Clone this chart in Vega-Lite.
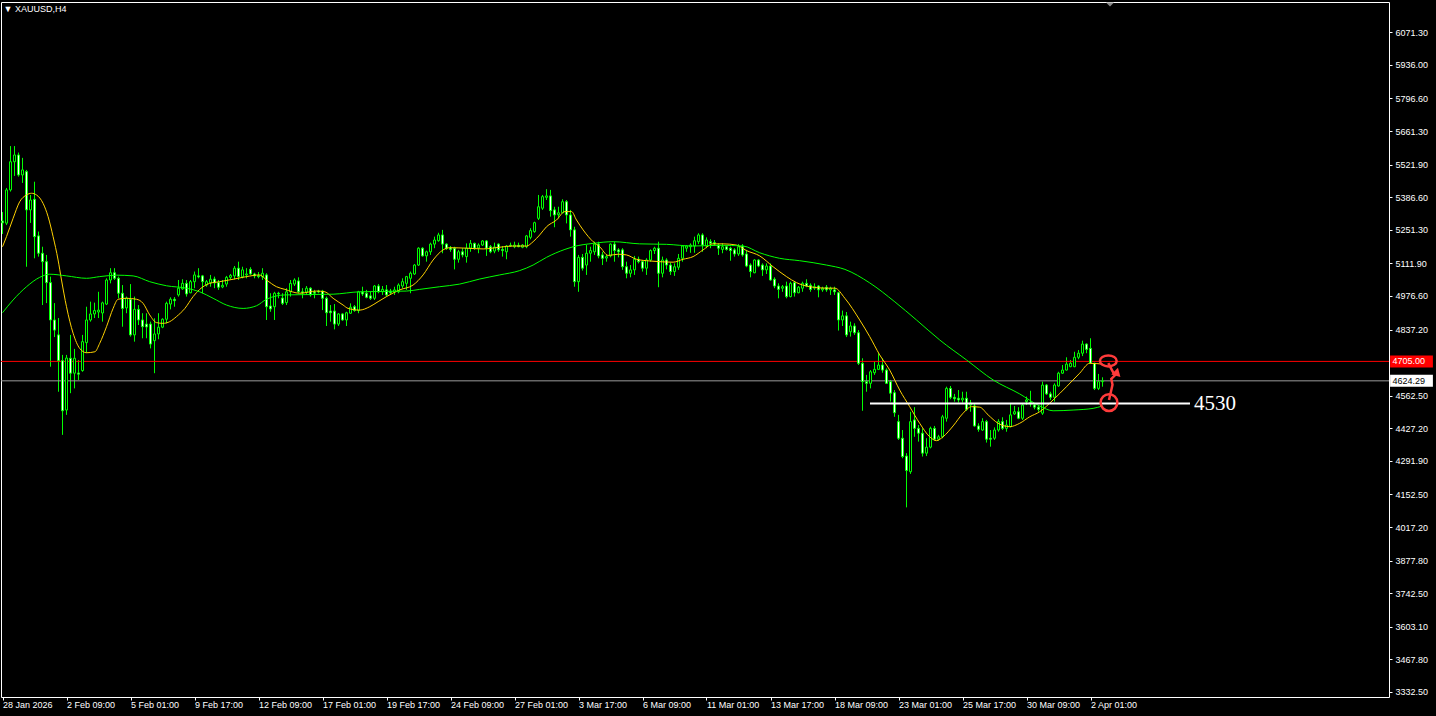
{
"$schema":"https://vega.github.io/schema/vega-lite/v6.json",
"width":1388,"height":695,
"autosize":{"type":"none"},
"padding":{"left":1,"top":2,"right":47,"bottom":19},
"background":"#000000",
"title":{"text":"▼ XAUUSD,H4","anchor":"start","dx":3,"offset":-12,"fontSize":9,"font":"Liberation Sans","fontWeight":"normal","color":"#ffffff"},
"config":{"view":{"stroke":"#ffffff","strokeWidth":1,"fill":"#000000"},
"axis":{"grid":false,"domainColor":"#ffffff","tickColor":"#ffffff","labelColor":"#ffffff","labelFont":"Liberation Sans","labelFontSize":9,"labelOverlap":false,"labelBound":false,"labelFlush":false}},
"datasets":{
"c":[
{"i":0,"o":5288,"h":5325,"l":5234,"c":5280},{"i":1,"o":5279,"h":5425,"l":5271,"c":5417},{"i":2,"o":5417,"h":5599,"l":5410,"c":5534},{"i":3,"o":5534,"h":5599,"l":5475,"c":5562},{"i":4,"o":5562,"h":5572,"l":5472,"c":5479},{"i":5,"o":5479,"h":5550,"l":5446,"c":5500},{"i":6,"o":5493,"h":5500,"l":5098,"c":5334},{"i":7,"o":5334,"h":5396,"l":5280,"c":5375},{"i":8,"o":5378,"h":5451,"l":5133,"c":5223},{"i":9,"o":5226,"h":5244,"l":5140,"c":5154},
{"i":10,"o":5154,"h":5181,"l":4939,"c":5119},{"i":11,"o":5119,"h":5147,"l":4947,"c":5032},{"i":12,"o":5032,"h":5057,"l":4683,"c":4877},{"i":13,"o":4877,"h":4947,"l":4806,"c":4835},{"i":14,"o":4815,"h":4885,"l":4579,"c":4708},{"i":15,"o":4708,"h":4732,"l":4400,"c":4500},{"i":16,"o":4503,"h":4732,"l":4483,"c":4719},{"i":17,"o":4718,"h":4815,"l":4573,"c":4656},{"i":18,"o":4656,"h":4757,"l":4593,"c":4718},{"i":19,"o":4657,"h":4711,"l":4628,"c":4652},
{"i":20,"o":4667,"h":4815,"l":4662,"c":4787},{"i":21,"o":4783,"h":4932,"l":4740,"c":4877},{"i":22,"o":4877,"h":4953,"l":4870,"c":4902},{"i":23,"o":4902,"h":4949,"l":4885,"c":4916},{"i":24,"o":4910,"h":4994,"l":4885,"c":4918},{"i":25,"o":4906,"h":4953,"l":4870,"c":4948},{"i":26,"o":4943,"h":5050,"l":4939,"c":5043},{"i":27,"o":5043,"h":5092,"l":5029,"c":5073},{"i":28,"o":5073,"h":5092,"l":5043,"c":5050},{"i":29,"o":5050,"h":5057,"l":4967,"c":4988},
{"i":30,"o":4988,"h":5022,"l":4849,"c":4925},{"i":31,"o":4927,"h":4974,"l":4905,"c":4968},{"i":32,"o":4963,"h":5026,"l":4808,"c":4815},{"i":33,"o":4815,"h":4974,"l":4787,"c":4921},{"i":34,"o":4921,"h":4939,"l":4856,"c":4877},{"i":35,"o":4877,"h":4905,"l":4801,"c":4849},{"i":36,"o":4860,"h":4905,"l":4801,"c":4848},{"i":37,"o":4860,"h":4870,"l":4759,"c":4777},{"i":38,"o":4791,"h":4884,"l":4656,"c":4819},{"i":39,"o":4819,"h":4905,"l":4797,"c":4847},
{"i":40,"o":4847,"h":4884,"l":4843,"c":4880},{"i":41,"o":4880,"h":4953,"l":4863,"c":4946},{"i":42,"o":4943,"h":4971,"l":4921,"c":4963},{"i":43,"o":4963,"h":4972,"l":4932,"c":4957},{"i":44,"o":4981,"h":5043,"l":4974,"c":5009},{"i":45,"o":5006,"h":5046,"l":5002,"c":5029},{"i":46,"o":5029,"h":5043,"l":4974,"c":4985},{"i":47,"o":4990,"h":5043,"l":4988,"c":5036},{"i":48,"o":5036,"h":5078,"l":5009,"c":5064},{"i":49,"o":5060,"h":5092,"l":5050,"c":5056},
{"i":50,"o":5060,"h":5064,"l":4988,"c":5036},{"i":51,"o":5022,"h":5043,"l":5015,"c":5036},{"i":52,"o":5031,"h":5064,"l":5015,"c":5046},{"i":53,"o":5047,"h":5057,"l":5009,"c":5031},{"i":54,"o":5032,"h":5043,"l":5002,"c":5013},{"i":55,"o":5014,"h":5043,"l":5009,"c":5021},{"i":56,"o":5026,"h":5060,"l":5015,"c":5054},{"i":57,"o":5054,"h":5068,"l":5046,"c":5062},{"i":58,"o":5060,"h":5101,"l":5046,"c":5092},{"i":59,"o":5092,"h":5119,"l":5043,"c":5057},
{"i":60,"o":5056,"h":5098,"l":5050,"c":5085},{"i":61,"o":5064,"h":5092,"l":5050,"c":5068},{"i":62,"o":5087,"h":5096,"l":5064,"c":5068},{"i":63,"o":5068,"h":5073,"l":5050,"c":5060},{"i":64,"o":5061,"h":5076,"l":5050,"c":5057},{"i":65,"o":5056,"h":5092,"l":5043,"c":5071},{"i":66,"o":5064,"h":5071,"l":4877,"c":4932},{"i":67,"o":4935,"h":4988,"l":4911,"c":4923},{"i":68,"o":4932,"h":4994,"l":4877,"c":4988},{"i":69,"o":4988,"h":4994,"l":4967,"c":4985},
{"i":70,"o":4968,"h":4988,"l":4939,"c":4946},{"i":71,"o":4949,"h":5009,"l":4939,"c":4994},{"i":72,"o":4994,"h":5043,"l":4974,"c":5029},{"i":73,"o":5026,"h":5050,"l":5018,"c":5043},{"i":74,"o":5039,"h":5054,"l":4988,"c":4994},{"i":75,"o":4994,"h":5009,"l":4967,"c":4989},{"i":76,"o":4993,"h":5018,"l":4981,"c":5009},{"i":77,"o":5009,"h":5013,"l":4974,"c":4981},{"i":78,"o":4993,"h":5002,"l":4967,"c":4988},{"i":79,"o":4997,"h":5002,"l":4988,"c":4993},
{"i":80,"o":4997,"h":5002,"l":4918,"c":4967},{"i":81,"o":4967,"h":4974,"l":4852,"c":4907},{"i":82,"o":4914,"h":4939,"l":4870,"c":4907},{"i":83,"o":4914,"h":4943,"l":4838,"c":4860},{"i":84,"o":4860,"h":4905,"l":4852,"c":4902},{"i":85,"o":4902,"h":4905,"l":4874,"c":4877},{"i":86,"o":4877,"h":4911,"l":4852,"c":4907},{"i":87,"o":4905,"h":4946,"l":4902,"c":4930},{"i":88,"o":4932,"h":4939,"l":4911,"c":4916},{"i":89,"o":4916,"h":4998,"l":4905,"c":4994},
{"i":90,"o":4993,"h":5015,"l":4977,"c":4985},{"i":91,"o":4988,"h":5002,"l":4967,"c":4971},{"i":92,"o":4977,"h":4994,"l":4960,"c":4967},{"i":93,"o":4967,"h":5022,"l":4960,"c":5018},{"i":94,"o":5018,"h":5026,"l":4988,"c":4994},{"i":95,"o":4994,"h":5018,"l":4981,"c":5004},{"i":96,"o":5002,"h":5022,"l":4974,"c":4981},{"i":97,"o":4997,"h":5006,"l":4985,"c":4990},{"i":98,"o":4993,"h":5015,"l":4981,"c":5002},{"i":99,"o":4994,"h":5029,"l":4988,"c":5022},
{"i":100,"o":5018,"h":5050,"l":5009,"c":5036},{"i":101,"o":5029,"h":5060,"l":5002,"c":5057},{"i":102,"o":5050,"h":5078,"l":4988,"c":5071},{"i":103,"o":5068,"h":5109,"l":5064,"c":5105},{"i":104,"o":5105,"h":5179,"l":5101,"c":5175},{"i":105,"o":5175,"h":5179,"l":5140,"c":5143},{"i":106,"o":5143,"h":5165,"l":5119,"c":5160},{"i":107,"o":5160,"h":5198,"l":5147,"c":5192},{"i":108,"o":5192,"h":5223,"l":5175,"c":5209},{"i":109,"o":5206,"h":5239,"l":5202,"c":5230},
{"i":110,"o":5230,"h":5251,"l":5154,"c":5192},{"i":111,"o":5192,"h":5195,"l":5168,"c":5175},{"i":112,"o":5176,"h":5184,"l":5160,"c":5170},{"i":113,"o":5175,"h":5181,"l":5087,"c":5129},{"i":114,"o":5129,"h":5168,"l":5115,"c":5160},{"i":115,"o":5160,"h":5175,"l":5137,"c":5147},{"i":116,"o":5140,"h":5195,"l":5115,"c":5175},{"i":117,"o":5175,"h":5209,"l":5160,"c":5195},{"i":118,"o":5195,"h":5198,"l":5168,"c":5175},{"i":119,"o":5176,"h":5195,"l":5154,"c":5188},
{"i":120,"o":5188,"h":5209,"l":5184,"c":5205},{"i":121,"o":5205,"h":5209,"l":5143,"c":5175},{"i":122,"o":5181,"h":5188,"l":5154,"c":5160},{"i":123,"o":5163,"h":5198,"l":5154,"c":5180},{"i":124,"o":5192,"h":5195,"l":5160,"c":5168},{"i":125,"o":5170,"h":5184,"l":5140,"c":5165},{"i":126,"o":5160,"h":5188,"l":5129,"c":5184},{"i":127,"o":5187,"h":5198,"l":5181,"c":5184},{"i":128,"o":5181,"h":5202,"l":5175,"c":5188},{"i":129,"o":5187,"h":5198,"l":5179,"c":5181},
{"i":130,"o":5179,"h":5192,"l":5175,"c":5188},{"i":131,"o":5181,"h":5230,"l":5175,"c":5226},{"i":132,"o":5220,"h":5258,"l":5212,"c":5248},{"i":133,"o":5244,"h":5285,"l":5239,"c":5281},{"i":134,"o":5299,"h":5396,"l":5292,"c":5347},{"i":135,"o":5341,"h":5396,"l":5334,"c":5389},{"i":136,"o":5386,"h":5420,"l":5375,"c":5392},{"i":137,"o":5392,"h":5417,"l":5306,"c":5331},{"i":138,"o":5334,"h":5347,"l":5262,"c":5313},{"i":139,"o":5314,"h":5347,"l":5299,"c":5322},
{"i":140,"o":5322,"h":5378,"l":5320,"c":5368},{"i":141,"o":5368,"h":5375,"l":5278,"c":5313},{"i":142,"o":5313,"h":5334,"l":5223,"c":5251},{"i":143,"o":5251,"h":5264,"l":5015,"c":5036},{"i":144,"o":5036,"h":5147,"l":4994,"c":5137},{"i":145,"o":5137,"h":5151,"l":5082,"c":5092},{"i":146,"o":5105,"h":5188,"l":5064,"c":5154},{"i":147,"o":5154,"h":5181,"l":5119,"c":5165},{"i":148,"o":5160,"h":5202,"l":5147,"c":5192},{"i":149,"o":5192,"h":5202,"l":5133,"c":5143},
{"i":150,"o":5147,"h":5160,"l":5105,"c":5133},{"i":151,"o":5134,"h":5147,"l":5119,"c":5140},{"i":152,"o":5143,"h":5195,"l":5137,"c":5192},{"i":153,"o":5192,"h":5202,"l":5119,"c":5165},{"i":154,"o":5168,"h":5175,"l":5137,"c":5160},{"i":155,"o":5168,"h":5175,"l":5085,"c":5098},{"i":156,"o":5098,"h":5119,"l":5050,"c":5071},{"i":157,"o":5071,"h":5105,"l":5054,"c":5085},{"i":158,"o":5085,"h":5143,"l":5064,"c":5129},{"i":159,"o":5129,"h":5140,"l":5112,"c":5119},
{"i":160,"o":5119,"h":5126,"l":5078,"c":5092},{"i":161,"o":5092,"h":5133,"l":5064,"c":5126},{"i":162,"o":5126,"h":5170,"l":5119,"c":5165},{"i":163,"o":5165,"h":5181,"l":5151,"c":5175},{"i":164,"o":5175,"h":5202,"l":5013,"c":5071},{"i":165,"o":5071,"h":5140,"l":5054,"c":5126},{"i":166,"o":5126,"h":5133,"l":5087,"c":5105},{"i":167,"o":5105,"h":5115,"l":5064,"c":5078},{"i":168,"o":5078,"h":5112,"l":5060,"c":5098},{"i":169,"o":5096,"h":5151,"l":5085,"c":5133},
{"i":170,"o":5133,"h":5188,"l":5119,"c":5184},{"i":171,"o":5175,"h":5188,"l":5160,"c":5184},{"i":172,"o":5181,"h":5195,"l":5156,"c":5188},{"i":173,"o":5184,"h":5223,"l":5156,"c":5206},{"i":174,"o":5202,"h":5237,"l":5192,"c":5230},{"i":175,"o":5230,"h":5237,"l":5160,"c":5188},{"i":176,"o":5184,"h":5220,"l":5175,"c":5209},{"i":177,"o":5202,"h":5212,"l":5175,"c":5195},{"i":178,"o":5198,"h":5209,"l":5184,"c":5192},{"i":179,"o":5188,"h":5195,"l":5147,"c":5175},
{"i":180,"o":5170,"h":5195,"l":5154,"c":5181},{"i":181,"o":5181,"h":5184,"l":5165,"c":5170},{"i":182,"o":5175,"h":5181,"l":5123,"c":5165},{"i":183,"o":5168,"h":5175,"l":5140,"c":5151},{"i":184,"o":5151,"h":5192,"l":5143,"c":5181},{"i":185,"o":5184,"h":5192,"l":5140,"c":5147},{"i":186,"o":5151,"h":5168,"l":5096,"c":5101},{"i":187,"o":5105,"h":5112,"l":5054,"c":5078},{"i":188,"o":5073,"h":5129,"l":5071,"c":5126},{"i":189,"o":5126,"h":5129,"l":5096,"c":5101},
{"i":190,"o":5105,"h":5112,"l":5060,"c":5085},{"i":191,"o":5085,"h":5112,"l":5068,"c":5101},{"i":192,"o":5101,"h":5112,"l":5040,"c":5043},{"i":193,"o":5046,"h":5054,"l":5009,"c":5018},{"i":194,"o":5018,"h":5029,"l":4967,"c":5004},{"i":195,"o":5009,"h":5022,"l":4994,"c":5015},{"i":196,"o":5018,"h":5036,"l":4967,"c":4974},{"i":197,"o":4974,"h":5036,"l":4971,"c":5029},{"i":198,"o":5032,"h":5036,"l":4974,"c":4990},{"i":199,"o":4990,"h":5018,"l":4988,"c":5013},
{"i":200,"o":5009,"h":5036,"l":4994,"c":5029},{"i":201,"o":5029,"h":5046,"l":5013,"c":5018},{"i":202,"o":5021,"h":5029,"l":4994,"c":5004},{"i":203,"o":5009,"h":5029,"l":5002,"c":5015},{"i":204,"o":5018,"h":5022,"l":4971,"c":5002},{"i":205,"o":5002,"h":5015,"l":4994,"c":5009},{"i":206,"o":5013,"h":5022,"l":4994,"c":5002},{"i":207,"o":5002,"h":5015,"l":4981,"c":5009},{"i":208,"o":5002,"h":5015,"l":4981,"c":4994},{"i":209,"o":4990,"h":4994,"l":4833,"c":4877},
{"i":210,"o":4877,"h":4916,"l":4852,"c":4894},{"i":211,"o":4894,"h":4910,"l":4806,"c":4815},{"i":212,"o":4828,"h":4870,"l":4808,"c":4852},{"i":213,"o":4852,"h":4863,"l":4815,"c":4824},{"i":214,"o":4824,"h":4835,"l":4690,"c":4697},{"i":215,"o":4697,"h":4718,"l":4500,"c":4621},{"i":216,"o":4621,"h":4649,"l":4579,"c":4614},{"i":217,"o":4614,"h":4669,"l":4593,"c":4662},{"i":218,"o":4658,"h":4704,"l":4649,"c":4672},{"i":219,"o":4672,"h":4739,"l":4669,"c":4690},
{"i":220,"o":4690,"h":4718,"l":4658,"c":4669},{"i":221,"o":4669,"h":4676,"l":4611,"c":4614},{"i":222,"o":4621,"h":4628,"l":4538,"c":4573},{"i":223,"o":4575,"h":4586,"l":4475,"c":4492},{"i":224,"o":4455,"h":4483,"l":4379,"c":4386},{"i":225,"o":4386,"h":4420,"l":4303,"c":4310},{"i":226,"o":4312,"h":4324,"l":4099,"c":4252},{"i":227,"o":4247,"h":4496,"l":4238,"c":4455},{"i":228,"o":4462,"h":4515,"l":4392,"c":4427},{"i":229,"o":4427,"h":4441,"l":4372,"c":4407},
{"i":230,"o":4407,"h":4427,"l":4310,"c":4324},{"i":231,"o":4324,"h":4386,"l":4312,"c":4349},{"i":232,"o":4349,"h":4434,"l":4344,"c":4427},{"i":233,"o":4427,"h":4437,"l":4376,"c":4382},{"i":234,"o":4382,"h":4400,"l":4376,"c":4392},{"i":235,"o":4392,"h":4483,"l":4386,"c":4475},{"i":236,"o":4469,"h":4600,"l":4455,"c":4593},{"i":237,"o":4593,"h":4603,"l":4548,"c":4556},{"i":238,"o":4556,"h":4570,"l":4538,"c":4550},{"i":239,"o":4552,"h":4586,"l":4534,"c":4545},
{"i":240,"o":4545,"h":4579,"l":4534,"c":4552},{"i":241,"o":4552,"h":4579,"l":4500,"c":4506},{"i":242,"o":4524,"h":4545,"l":4496,"c":4532},{"i":243,"o":4520,"h":4531,"l":4434,"c":4437},{"i":244,"o":4437,"h":4448,"l":4413,"c":4423},{"i":245,"o":4420,"h":4469,"l":4417,"c":4455},{"i":246,"o":4455,"h":4462,"l":4368,"c":4382},{"i":247,"o":4386,"h":4420,"l":4351,"c":4382},{"i":248,"o":4386,"h":4431,"l":4379,"c":4420},{"i":249,"o":4420,"h":4465,"l":4413,"c":4455},
{"i":250,"o":4455,"h":4473,"l":4420,"c":4427},{"i":251,"o":4427,"h":4462,"l":4413,"c":4441},{"i":252,"o":4434,"h":4531,"l":4431,"c":4483},{"i":253,"o":4487,"h":4520,"l":4483,"c":4496},{"i":254,"o":4496,"h":4515,"l":4465,"c":4469},{"i":255,"o":4469,"h":4531,"l":4462,"c":4524},{"i":256,"o":4538,"h":4559,"l":4524,"c":4545},{"i":257,"o":4534,"h":4583,"l":4517,"c":4528},{"i":258,"o":4524,"h":4531,"l":4506,"c":4515},{"i":259,"o":4515,"h":4524,"l":4496,"c":4506},
{"i":260,"o":4490,"h":4621,"l":4483,"c":4607},{"i":261,"o":4607,"h":4611,"l":4566,"c":4570},{"i":262,"o":4570,"h":4579,"l":4545,"c":4556},{"i":263,"o":4556,"h":4614,"l":4538,"c":4607},{"i":264,"o":4603,"h":4662,"l":4600,"c":4656},{"i":265,"o":4656,"h":4690,"l":4653,"c":4669},{"i":266,"o":4669,"h":4722,"l":4667,"c":4694},{"i":267,"o":4683,"h":4711,"l":4681,"c":4697},{"i":268,"o":4683,"h":4745,"l":4681,"c":4722},{"i":269,"o":4722,"h":4752,"l":4714,"c":4739},
{"i":270,"o":4739,"h":4791,"l":4727,"c":4777},{"i":271,"o":4777,"h":4780,"l":4739,"c":4755},{"i":272,"o":4759,"h":4801,"l":4694,"c":4697},{"i":273,"o":4697,"h":4700,"l":4586,"c":4593},{"i":274,"o":4593,"h":4653,"l":4586,"c":4621},{"i":275,"o":4621,"h":4639,"l":4600,"c":4624.29}
],
"ma":[
{"s":"f","i":0,"v":5181},{"s":"f","i":1,"v":5223},{"s":"f","i":2.65,"v":5299},{"s":"f","i":4.3,"v":5368},{"s":"f","i":6,"v":5396},{"s":"f","i":7.25,"v":5403},{"s":"f","i":8.5,"v":5396},{"s":"f","i":10.15,"v":5361},{"s":"f","i":11.4,"v":5306},{"s":"f","i":12.65,"v":5223},{"s":"f","i":13.9,"v":5126},{"s":"f","i":14.75,"v":5043},{"s":"f","i":16,"v":4932},{"s":"f","i":17.65,"v":4822},{"s":"f","i":19.3,"v":4759},{"s":"f","i":21,"v":4741},{"s":"f","i":23.1,"v":4745},{"s":"f","i":24.3,"v":4780},{"s":"f","i":26,"v":4849},{"s":"f","i":27.65,"v":4925},{"s":"f","i":28.9,"v":4963},{"s":"f","i":31,"v":4967},{"s":"f","i":33.5,"v":4963},{"s":"f","i":35.15,"v":4946},{"s":"f","i":36.8,"v":4898},{"s":"f","i":38.5,"v":4866},{"s":"f","i":40.15,"v":4863},{"s":"f","i":41.8,"v":4870},{"s":"f","i":43.5,"v":4891},{"s":"f","i":45.6,"v":4925},{"s":"f","i":47.65,"v":4974},{"s":"f","i":49.3,"v":5004},{"s":"f","i":51.8,"v":5029},{"s":"f","i":54.3,"v":5036},{"s":"f","i":57.65,"v":5046},{"s":"f","i":61,"v":5057},{"s":"f","i":64.3,"v":5064},{"s":"f","i":66,"v":5043},{"s":"f","i":68.5,"v":5015},{"s":"f","i":70.6,"v":5004},{"s":"f","i":74.3,"v":4988},{"s":"f","i":78.5,"v":4997},{"s":"f","i":80.6,"v":4994},{"s":"f","i":82.65,"v":4967},{"s":"f","i":85.15,"v":4939},{"s":"f","i":86.4,"v":4925},{"s":"f","i":89.3,"v":4918},{"s":"f","i":91.8,"v":4932},{"s":"f","i":93.9,"v":4953},{"s":"f","i":96,"v":4974},{"s":"f","i":99.3,"v":5002},{"s":"f","i":102.65,"v":5022},{"s":"f","i":105.15,"v":5064},{"s":"f","i":107.65,"v":5126},{"s":"f","i":110.15,"v":5168},{"s":"f","i":111.8,"v":5177},{"s":"f","i":116,"v":5175},{"s":"f","i":120.15,"v":5172},{"s":"f","i":124.3,"v":5179},{"s":"f","i":127.65,"v":5184},{"s":"f","i":131,"v":5184},{"s":"f","i":132.65,"v":5202},{"s":"f","i":134.3,"v":5230},{"s":"f","i":136,"v":5264},{"s":"f","i":138.5,"v":5292},{"s":"f","i":140.6,"v":5327},{"s":"f","i":142.25,"v":5327},{"s":"f","i":143.5,"v":5292},{"s":"f","i":145.15,"v":5251},{"s":"f","i":147.65,"v":5202},{"s":"f","i":149.3,"v":5181},{"s":"f","i":151.4,"v":5145},{"s":"f","i":153.9,"v":5150},{"s":"f","i":156,"v":5147},{"s":"f","i":158.5,"v":5129},{"s":"f","i":161.8,"v":5122},{"s":"f","i":164.3,"v":5119},{"s":"f","i":167.65,"v":5117},{"s":"f","i":170.15,"v":5129},{"s":"f","i":172.65,"v":5140},{"s":"f","i":175.15,"v":5168},{"s":"f","i":177.65,"v":5193},{"s":"f","i":180.15,"v":5193},{"s":"f","i":183.5,"v":5188},{"s":"f","i":186,"v":5165},{"s":"f","i":189.3,"v":5143},{"s":"f","i":192.65,"v":5098},{"s":"f","i":196,"v":5057},{"s":"f","i":198.5,"v":5032},{"s":"f","i":201.8,"v":5015},{"s":"f","i":206,"v":5009},{"s":"f","i":208.1,"v":5009},{"s":"f","i":210.6,"v":4967},{"s":"f","i":214.3,"v":4877},{"s":"f","i":216.8,"v":4808},{"s":"f","i":219.3,"v":4732},{"s":"f","i":221.8,"v":4669},{"s":"f","i":224.3,"v":4586},{"s":"f","i":226.8,"v":4517},{"s":"f","i":229.3,"v":4448},{"s":"f","i":231.8,"v":4392},{"s":"f","i":233.5,"v":4376},{"s":"f","i":235.15,"v":4392},{"s":"f","i":237.65,"v":4437},{"s":"f","i":240.15,"v":4490},{"s":"f","i":242.25,"v":4517},{"s":"f","i":244.3,"v":4515},{"s":"f","i":246.4,"v":4483},{"s":"f","i":248.9,"v":4448},{"s":"f","i":251.8,"v":4434},{"s":"f","i":254.3,"v":4448},{"s":"f","i":256.8,"v":4475},{"s":"f","i":259.3,"v":4496},{"s":"f","i":262.65,"v":4545},{"s":"f","i":266,"v":4600},{"s":"f","i":269.3,"v":4656},{"s":"f","i":271.8,"v":4697},{"s":"f","i":275,"v":4694},
{"s":"s","i":0,"v":4907},{"s":"s","i":2.65,"v":4960},{"s":"s","i":6,"v":5015},{"s":"s","i":9.3,"v":5054},{"s":"s","i":11.8,"v":5067},{"s":"s","i":16,"v":5060},{"s":"s","i":21,"v":5050},{"s":"s","i":24.3,"v":5057},{"s":"s","i":28.5,"v":5063},{"s":"s","i":32.65,"v":5060},{"s":"s","i":36.8,"v":5036},{"s":"s","i":41,"v":5019},{"s":"s","i":46,"v":5009},{"s":"s","i":49.3,"v":4994},{"s":"s","i":52.65,"v":4967},{"s":"s","i":56,"v":4939},{"s":"s","i":60.15,"v":4925},{"s":"s","i":63.5,"v":4936},{"s":"s","i":66,"v":4963},{"s":"s","i":70.6,"v":4981},{"s":"s","i":82.65,"v":4984},{"s":"s","i":89.3,"v":4994},{"s":"s","i":101,"v":4997},{"s":"s","i":104.3,"v":5004},{"s":"s","i":109.3,"v":5015},{"s":"s","i":114.3,"v":5026},{"s":"s","i":119.3,"v":5047},{"s":"s","i":124.3,"v":5064},{"s":"s","i":129.3,"v":5082},{"s":"s","i":132.65,"v":5105},{"s":"s","i":136,"v":5137},{"s":"s","i":140.6,"v":5170},{"s":"s","i":142.65,"v":5181},{"s":"s","i":147.65,"v":5195},{"s":"s","i":152.65,"v":5202},{"s":"s","i":159.3,"v":5193},{"s":"s","i":166,"v":5191},{"s":"s","i":172.65,"v":5184},{"s":"s","i":179.3,"v":5187},{"s":"s","i":185.15,"v":5184},{"s":"s","i":189.3,"v":5156},{"s":"s","i":194.3,"v":5133},{"s":"s","i":199.3,"v":5123},{"s":"s","i":206,"v":5105},{"s":"s","i":210.6,"v":5087},{"s":"s","i":216.8,"v":5031},{"s":"s","i":223.1,"v":4952},{"s":"s","i":228.5,"v":4877},{"s":"s","i":234.3,"v":4794},{"s":"s","i":241,"v":4711},{"s":"s","i":247.65,"v":4628},{"s":"s","i":254.3,"v":4570},{"s":"s","i":259.3,"v":4520},{"s":"s","i":262.65,"v":4500},{"s":"s","i":267.65,"v":4503},{"s":"s","i":272.65,"v":4510},{"s":"s","i":275,"v":4520}
]
},
"layer":[
{"data":{"name":"c"},
 "mark":{"type":"rule","color":"#00ff00","strokeWidth":1},
 "encoding":{
  "x":{"field":"i","type":"quantitative","scale":{"domain":[-0.375,346.625],"nice":false,"zero":false,"padding":0},
   "axis":{"title":null,"orient":"bottom","tickCount":100,"values":[0,16,32,48,64,80,96,112,128,144,160,176,192,208,224,240,256,272],
    "labelExpr":"['28 Jan 2026','2 Feb 09:00','5 Feb 01:00','9 Feb 17:00','12 Feb 09:00','17 Feb 01:00','19 Feb 17:00','24 Feb 09:00','27 Feb 01:00','3 Mar 17:00','6 Mar 09:00','11 Mar 01:00','13 Mar 17:00','18 Mar 09:00','23 Mar 01:00','25 Mar 17:00','30 Mar 09:00','2 Apr 01:00'][round(datum.value/16)]",
    "labelAlign":"left","labelBaseline":"top","tickSize":3,"labelPadding":0,"domain":false,"labelOverlap":false,"labelFlush":false,"labelBound":false,"grid":false}},
  "y":{"field":"l","type":"quantitative","scale":{"domain":[3311.7,6197.1],"nice":false,"zero":false,"padding":0},
   "axis":{"title":null,"orient":"right","tickCount":100,"values":[6071.3,5936.0,5796.6,5661.3,5521.9,5386.6,5251.3,5111.9,4976.6,4837.2,4562.5,4427.2,4291.9,4152.5,4017.2,3877.8,3742.5,3603.1,3467.8,3332.5],
    "format":".2f","tickSize":3,"labelPadding":3,"labelBaseline":"middle","domain":false,"labelOverlap":false,"labelFlush":false,"labelBound":false,"grid":false}},
  "y2":{"field":"h"}}},
{"data":{"values":[{"p":4705,"k":"a"},{"p":4624.29,"k":"b"}]},
 "mark":{"type":"rule","strokeWidth":1},
 "encoding":{"y":{"field":"p","type":"quantitative"},
  "color":{"condition":{"test":"datum.k=='a'","value":"#ff0000"},"value":"#9a9a9a"}}},
{"data":{"name":"c"},
 "mark":{"type":"bar","size":2,"stroke":"#00ff00","strokeWidth":1},
 "encoding":{
  "x":{"field":"i","type":"quantitative"},
  "y":{"field":"o","type":"quantitative"},
  "y2":{"field":"c"},
  "fill":{"condition":{"test":"datum.c < datum.o","value":"#ffffff"},"value":"#000000"}}},
{"data":{"name":"ma"},
 "mark":{"type":"line","strokeWidth":1,"interpolate":"monotone"},
 "encoding":{
  "x":{"field":"i","type":"quantitative"},
  "y":{"field":"v","type":"quantitative"},
  "detail":{"field":"s","type":"nominal"},
  "color":{"condition":{"test":"datum.s=='f'","value":"#ffd200"},"value":"#00ff00"}}},
{"data":{"values":[{"a":216.875,"b":296.875,"p":4530}]},
 "mark":{"type":"rule","color":"#ffffff","strokeWidth":2},
 "encoding":{
  "x":{"field":"a","type":"quantitative"},
  "x2":{"field":"b"},
  "y":{"field":"p","type":"quantitative"}}},
{"data":{"values":[{"i":297.9,"p":4530,"t":"4530"}]},
 "mark":{"type":"text","align":"left","baseline":"middle","font":"Liberation Serif","fontSize":21,"color":"#ffffff"},
 "encoding":{
  "x":{"field":"i","type":"quantitative"},
  "y":{"field":"p","type":"quantitative"},
  "text":{"field":"t"}}},
{"data":{"values":[{"k":0,"i":276.45,"p":4698},{"k":1,"i":277.4,"p":4668},{"k":2,"i":278.1,"p":4647},{"k":3,"i":277.2,"p":4632},{"k":4,"i":277.5,"p":4608},{"k":5,"i":276.625,"p":4545}]},
 "mark":{"type":"line","color":"#ff3b3b","strokeWidth":2.5},
 "encoding":{
  "x":{"field":"i","type":"quantitative"},
  "y":{"field":"p","type":"quantitative"},
  "order":{"field":"k","type":"quantitative"}}},
{"data":{"values":[{"i":276.45,"p":4707}]},
 "mark":{"type":"point","filled":false,"stroke":"#ff3b3b","strokeWidth":2.5,"opacity":1,"size":280,"shape":"M-1,0A1,0.66,0,1,1,1,0A1,0.66,0,1,1,-1,0Z"},
 "encoding":{
  "x":{"field":"i","type":"quantitative"},
  "y":{"field":"p","type":"quantitative"}}},
{"data":{"values":[{"i":276.625,"p":4534}]},
 "mark":{"type":"point","filled":false,"stroke":"#ff3b3b","strokeWidth":2.5,"opacity":1,"size":280,"shape":"circle"},
 "encoding":{
  "x":{"field":"i","type":"quantitative"},
  "y":{"field":"p","type":"quantitative"}}},
{"data":{"values":[{"i":278.6,"p":4662}]},
 "mark":{"type":"point","filled":true,"color":"#ff3b3b","opacity":1,"size":90,"shape":"triangle-up","angle":15},
 "encoding":{
  "x":{"field":"i","type":"quantitative"},
  "y":{"field":"p","type":"quantitative"}}},
{"data":{"values":[{"i":276.875,"p":6187}]},
 "mark":{"type":"point","filled":true,"color":"#8a8a8a","opacity":1,"size":64,"shape":"M-1,-0.5L1,-0.5L0,0.5Z"},
 "encoding":{
  "x":{"field":"i","type":"quantitative"},
  "y":{"field":"p","type":"quantitative"}}},
{"data":{"values":[{"a":346.9,"b":357.6,"p":4705,"k":"r"},{"a":346.9,"b":357.6,"p":4624.29,"k":"w"}]},
 "mark":{"type":"bar","size":12,"clip":false},
 "encoding":{
  "x":{"field":"a","type":"quantitative"},
  "x2":{"field":"b"},
  "y":{"field":"p","type":"quantitative"},
  "fill":{"condition":{"test":"datum.k=='r'","value":"#ff0000"},"value":"#ffffff"}}},
{"data":{"values":[{"a":347.5,"p":4705,"k":"r","t":"4705.00"},{"a":347.5,"p":4624.29,"k":"w","t":"4624.29"}]},
 "mark":{"type":"text","align":"left","baseline":"middle","font":"Liberation Sans","fontSize":9,"clip":false},
 "encoding":{
  "x":{"field":"a","type":"quantitative"},
  "y":{"field":"p","type":"quantitative"},
  "text":{"field":"t"},
  "color":{"condition":{"test":"datum.k=='r'","value":"#ffffff"},"value":"#000000"}}}
]
}
